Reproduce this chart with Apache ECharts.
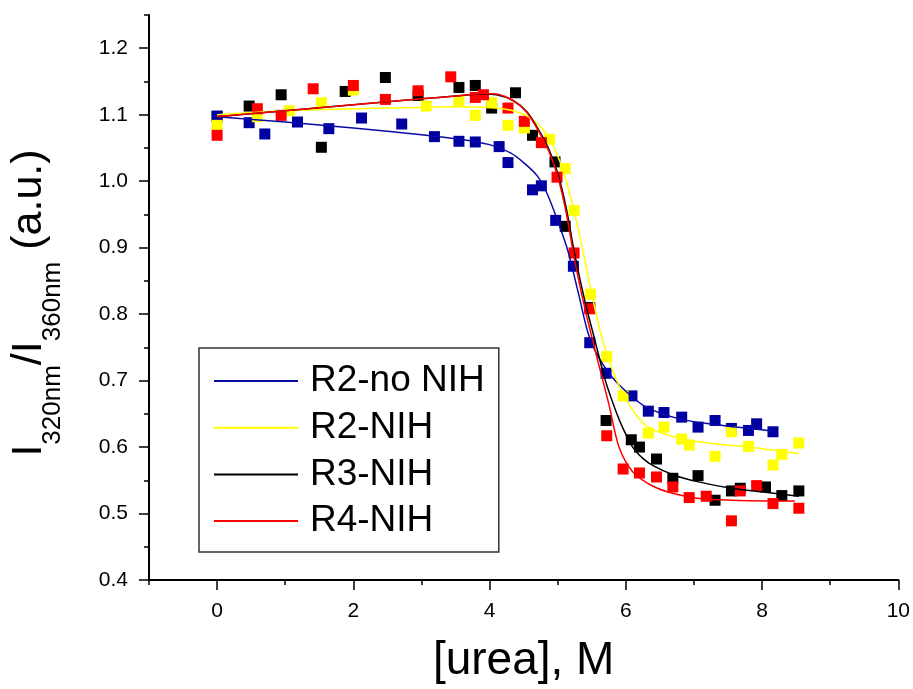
<!DOCTYPE html>
<html>
<head>
<meta charset="utf-8">
<script src="https://cdn.jsdelivr.net/npm/echarts@6/dist/echarts.min.js"></script>
<style>
    html, body { margin: 0; padding: 0; background: #fff; }
    #main { width: 913px; height: 689px; }
</style>
</head>
<body>
<div id="main"></div>
<script>
// 测量点 (urea, ratio)
var blueX = [0, 0.47, 0.70, 1.18, 1.64, 2.12, 2.71, 3.19, 3.55, 3.79, 4.14, 4.27, 4.63, 4.76, 4.97, 5.23, 5.47, 5.71, 6.09, 6.33, 6.56, 6.82, 7.06, 7.31, 7.55, 7.80, 7.92, 8.16];
var blueY = [1.098, 1.088, 1.071, 1.089, 1.079, 1.095, 1.086, 1.067, 1.060, 1.059, 1.052, 1.028, 0.987, 0.993, 0.941, 0.872, 0.757, 0.711, 0.677, 0.654, 0.652, 0.645, 0.630, 0.640, 0.628, 0.625, 0.635, 0.623];

var yellowX = [0, 0.59, 1.06, 1.53, 2.0, 3.07, 3.55, 3.79, 4.03, 4.27, 4.51, 4.88, 5.11, 5.24, 5.48, 5.72, 5.96, 6.33, 6.56, 6.82, 6.93, 7.31, 7.55, 7.80, 8.16, 8.29, 8.54];
var yellowY = [1.084, 1.097, 1.106, 1.118, 1.137, 1.113, 1.120, 1.099, 1.118, 1.084, 1.080, 1.063, 1.019, 0.956, 0.830, 0.736, 0.677, 0.621, 0.630, 0.612, 0.603, 0.586, 0.623, 0.601, 0.573, 0.589, 0.606];

var blackX = [0, 0.47, 0.94, 1.53, 1.88, 2.47, 2.95, 3.55, 3.79, 4.03, 4.38, 4.63, 4.96, 5.11, 5.47, 5.71, 6.08, 6.20, 6.45, 6.69, 7.06, 7.31, 7.55, 7.68, 8.05, 8.29, 8.54];
var blackY = [1.097, 1.113, 1.130, 1.051, 1.135, 1.156, 1.129, 1.141, 1.144, 1.110, 1.133, 1.069, 1.029, 0.932, 0.810, 0.640, 0.611, 0.600, 0.582, 0.553, 0.557, 0.520, 0.534, 0.538, 0.540, 0.527, 0.534];

var redX = [0, 0.59, 0.94, 1.41, 2.0, 2.47, 2.95, 3.43, 3.79, 3.91, 4.27, 4.51, 4.76, 4.99, 5.24, 5.47, 5.72, 5.96, 6.20, 6.45, 6.69, 6.93, 7.18, 7.55, 7.68, 7.92, 8.16, 8.54];
var redY = [1.069, 1.109, 1.099, 1.139, 1.144, 1.123, 1.136, 1.157, 1.126, 1.130, 1.110, 1.090, 1.058, 1.006, 0.892, 0.808, 0.617, 0.567, 0.561, 0.555, 0.540, 0.524, 0.526, 0.489, 0.534, 0.542, 0.515, 0.508];

// 拟合曲线
var blueFitX = [0, 1, 2, 3, 3.5, 4.0, 4.3, 4.5, 4.7, 4.85, 5.0, 5.15, 5.3, 5.45, 5.6, 5.8, 6.0, 6.3, 6.8, 7.3, 7.8, 8.16];
var blueFitY = [1.097, 1.089, 1.080, 1.070, 1.064, 1.055, 1.043, 1.028, 1.008, 0.980, 0.940, 0.895, 0.833, 0.770, 0.735, 0.705, 0.684, 0.660, 0.642, 0.634, 0.628, 0.624];

var yellowFitX = [0, 1, 2, 3, 3.5, 4.0, 4.3, 4.55, 4.75, 4.9, 5.05, 5.2, 5.35, 5.5, 5.65, 5.8, 6.0, 6.3, 6.8, 7.3, 7.8, 8.54];
var yellowFitY = [1.100, 1.106, 1.109, 1.111, 1.112, 1.111, 1.107, 1.098, 1.082, 1.060, 1.025, 0.972, 0.905, 0.830, 0.764, 0.717, 0.672, 0.632, 0.613, 0.605, 0.600, 0.590];

var blackFitX = [0, 1, 2, 3, 3.5, 3.9, 4.1, 4.35, 4.55, 4.72, 4.87, 5.0, 5.12, 5.25, 5.4, 5.55, 5.7, 5.85, 5.95, 6.1, 6.25, 6.4, 6.7, 7.05, 7.55, 8.05, 8.54];
var blackFitY = [1.097, 1.106, 1.115, 1.124, 1.128, 1.131, 1.130, 1.121, 1.104, 1.077, 1.048, 1.012, 0.962, 0.890, 0.819, 0.759, 0.700, 0.655, 0.630, 0.600, 0.583, 0.572, 0.558, 0.548, 0.538, 0.532, 0.526];

var redFitX = [0, 1, 2, 3, 3.5, 3.9, 4.1, 4.35, 4.55, 4.72, 4.87, 5.0, 5.12, 5.25, 5.4, 5.6, 5.75, 5.9, 6.1, 6.4, 6.7, 7.05, 7.55, 8.05, 8.48];
var redFitY = [1.097, 1.106, 1.115, 1.124, 1.128, 1.132, 1.131, 1.121, 1.103, 1.075, 1.045, 1.007, 0.955, 0.880, 0.808, 0.725, 0.665, 0.600, 0.563, 0.541, 0.530, 0.523, 0.520, 0.519, 0.519];

var seriesNames = ['R2-no NIH', 'R2-NIH', 'R3-NIH', 'R4-NIH'];
var xMajorTicks = [0, 2, 4, 6, 8, 10];
var yMajorTicks = [0.4, 0.5, 0.6, 0.7, 0.8, 0.9, 1.0, 1.1, 1.2];

var FONT = '"Liberation Sans", Arial, sans-serif';

function pairs(xs, ys) {
    return xs.map(function (x, i) { return [x, ys[i]]; });
}

function pointSeries(name, color, xs, ys) {
    return {
        name: name,
        type: 'scatter',
        symbol: 'rect',
        symbolSize: 11,
        itemStyle: { color: color, opacity: 1 },
        data: pairs(xs, ys),
        z: 2
    };
}

function fitSeries(name, color, xs, ys) {
    return {
        name: name,
        type: 'line',
        color: color,
        smooth: 0.3,
        showSymbol: false,
        symbol: 'none',
        lineStyle: { color: color, width: 1.5 },
        data: pairs(xs, ys),
        z: 3
    };
}

var myChart = echarts.init(document.getElementById('main'));

var axisLineStyle = { color: '#000', width: 2 };
var tickStyle = { color: '#000', width: 1.5 };

option = {
    backgroundColor: '#fff',
    animation: false,
    grid: { left: 149, right: 14, top: 15, bottom: 105 },
    legend: {
        data: seriesNames,
        orient: 'vertical',
        left: 199,
        top: 348,
        icon: 'rect',
        itemWidth: 84,
        itemHeight: 2,
        itemGap: 6.7,
        padding: [13, 14, 11, 15],
        borderColor: '#333',
        borderWidth: 1.5,
        textStyle: { fontSize: 37, lineHeight: 40, color: '#000', fontFamily: FONT, padding: [0, 0, 0, 7] }
    },
    xAxis: [
        {
            type: 'value', min: -1, max: 10, interval: 1, position: 'bottom',
            axisLine: { onZero: false, lineStyle: axisLineStyle },
            axisTick: { length: 5, lineStyle: tickStyle },
            axisLabel: {
                margin: 21, fontSize: 21, color: '#000', fontFamily: FONT,
                formatter: function (v) { return xMajorTicks.indexOf(v) >= 0 ? String(v) : ''; }
            },
            splitLine: { show: false },
            name: '[urea], M',
            nameLocation: 'middle',
            nameGap: 58,
            nameTextStyle: { fontSize: 46, color: '#000', fontFamily: FONT }
        },
        {
            type: 'value', min: -1, max: 10, position: 'bottom',
            axisLine: { show: false, onZero: false },
            axisTick: { length: 10, lineStyle: tickStyle, customValues: xMajorTicks },
            axisLabel: { show: false },
            splitLine: { show: false }
        }
    ],
    yAxis: [
        {
            type: 'value', min: 0.4, max: 1.25, interval: 0.05, position: 'left',
            axisLine: { show: true, onZero: false, lineStyle: axisLineStyle },
            axisTick: { show: true, length: 5, lineStyle: tickStyle },
            axisLabel: {
                margin: 21, fontSize: 21, color: '#000', fontFamily: FONT,
                formatter: function (v) {
                    var k = Math.round(v * 100);
                    return k % 10 === 0 ? (k / 100).toFixed(1) : '';
                }
            },
            splitLine: { show: false }
        },
        {
            type: 'value', min: 0.4, max: 1.25, position: 'left',
            axisLine: { show: false, onZero: false },
            axisTick: { show: true, length: 10, lineStyle: tickStyle, customValues: yMajorTicks },
            axisLabel: { show: false },
            splitLine: { show: false }
        }
    ],
    graphic: [
        {
            // y轴标题, 带下标
            type: 'text',
            x: 37,
            y: 303,
            rotation: Math.PI / 2,
            style: {
                text: '{big|I}{sub|320nm}{big|/I}{sub|360nm}{big| (a.u.)}',
                align: 'center',
                verticalAlign: 'middle',
                fill: '#000',
                rich: {
                    big: { fontSize: 43, lineHeight: 48, verticalAlign: 'top', fontFamily: FONT, fill: '#000' },
                    sub: { fontSize: 26, lineHeight: 58, verticalAlign: 'bottom', fontFamily: FONT, fill: '#000' }
                }
            }
        }
    ],
    series: [
        pointSeries('R3-NIH pts', '#000000', blackX, blackY),
        pointSeries('R2-no NIH pts', '#0000A0', blueX, blueY),
        pointSeries('R2-NIH pts', '#FFFF00', yellowX, yellowY),
        pointSeries('R4-NIH pts', '#FF0000', redX, redY),
        fitSeries('R2-no NIH', '#0A0AA8', blueFitX, blueFitY),
        fitSeries('R2-NIH', '#FFFF00', yellowFitX, yellowFitY),
        fitSeries('R3-NIH', '#000000', blackFitX, blackFitY),
        fitSeries('R4-NIH', '#FF0000', redFitX, redFitY)
    ]
};

myChart.setOption(option);
</script>
</body>
</html>
